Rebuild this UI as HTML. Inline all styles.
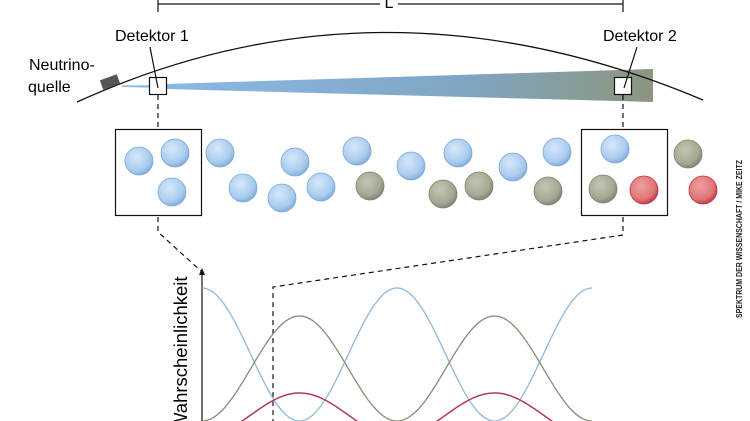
<!DOCTYPE html>
<html><head><meta charset="utf-8"><style>
html,body{margin:0;padding:0;background:#fff;width:750px;height:421px;overflow:hidden}
svg{display:block}
text{font-family:"Liberation Sans",sans-serif}
</style></head><body>
<svg id="s" width="750" height="421" viewBox="0 0 750 421" xmlns="http://www.w3.org/2000/svg">
<defs>
<linearGradient id="beam" x1="0" x2="1" y1="0" y2="0">
<stop offset="0" stop-color="#8ab8e6"/><stop offset="0.6" stop-color="#7fa6c4"/><stop offset="1" stop-color="#8c957e"/>
</linearGradient>
<radialGradient id="gb" cx="0.4" cy="0.35" r="0.65"><stop offset="0" stop-color="#d6e8fa"/><stop offset="0.75" stop-color="#a9cbee"/><stop offset="1" stop-color="#84b0dc"/></radialGradient>
<radialGradient id="gg" cx="0.4" cy="0.35" r="0.65"><stop offset="0" stop-color="#c4c5b4"/><stop offset="0.75" stop-color="#a5a792"/><stop offset="1" stop-color="#85877a"/></radialGradient>
<radialGradient id="gr" cx="0.4" cy="0.35" r="0.65"><stop offset="0" stop-color="#f0a0a0"/><stop offset="0.75" stop-color="#e07575"/><stop offset="1" stop-color="#c0404a"/></radialGradient>
</defs>
<path d="M158 0 V12 M623 0 V12 M158 4 H380 M398 4 H623" stroke="#111" stroke-width="1.2" fill="none"/>
<text x="389" y="8" font-size="16" text-anchor="middle">L</text>
<path d="M122 85.5 L166 85 L166 88 L122 87 Z" fill="#8ab8e6"/>
<path d="M166 84 L653 69 L653 102 L166 89 Z" fill="url(#beam)"/>
<path d="M77 102 Q380 -36 703 100" stroke="#111" stroke-width="1.3" fill="none"/>
<rect x="101" y="77" width="18" height="10" fill="#555" transform="rotate(-20 110 82)"/>
<text x="29" y="70" font-size="16">Neutrino-</text>
<text x="28" y="92" font-size="16">quelle</text>
<text x="115" y="41" font-size="16">Detektor 1</text>
<text x="603" y="41" font-size="16">Detektor 2</text>
<rect x="149.5" y="77.5" width="17" height="17" fill="#fff" stroke="#111" stroke-width="1.2"/>
<rect x="614.5" y="77.5" width="17" height="17" fill="#fff" stroke="#111" stroke-width="1.2"/>
<path d="M150 47 L158 88 M637 47 L624 88" stroke="#111" stroke-width="1.2"/>
<g stroke="#111" stroke-width="1.2" stroke-dasharray="5 4" fill="none">
<path d="M158 95 V129"/><path d="M623 95 V129"/>
<path d="M158 217 V232 L202 272"/>
<path d="M623 217 V235 L273 287 V421"/>
</g>
<rect x="115.5" y="129.5" width="86" height="86" fill="none" stroke="#111" stroke-width="1.2"/>
<rect x="581.5" y="129.5" width="86" height="86" fill="none" stroke="#111" stroke-width="1.2"/>
<g id="balls"></g>
<path d="M202 421 V274" stroke="#111" stroke-width="1.2"/>
<path d="M199 275 L202 268 L205 275 Z" fill="#111"/>
<text transform="translate(187 430) rotate(-90)" font-size="18.5">Wahrscheinlichkeit</text>
<path id="cb" stroke="#8fb8d8" stroke-width="1.3" fill="none"/>
<path id="cg" stroke="#8a8a78" stroke-width="1.3" fill="none"/>
<path id="cr" stroke="#b03a5a" stroke-width="1.5" fill="none"/>
<text transform="translate(742 318) rotate(-90)" font-size="8" font-weight="bold" fill="#222" textLength="158" lengthAdjust="spacingAndGlyphs">SPEKTRUM DER WISSENSCHAFT / MIKE ZEITZ</text>
</svg>
<script>
var b=[[139,161,'b'],[175,153,'b'],[172,192,'b'],[220,153,'b'],[243,188,'b'],[282,198,'b'],[295,162,'b'],[321,187,'b'],[357,151,'b'],[370,186,'g'],[411,166,'b'],[443,194,'g'],[458,153,'b'],[479,186,'g'],[513,167,'b'],[548,191,'g'],[557,152,'b'],[615,149,'b'],[603,189,'g'],[644,190,'r'],[688,154,'g'],[703,190,'r']];
var st={b:'#7aa8d6',g:'#7e8070',r:'#c03040'};var h='';
b.forEach(function(c){h+='<circle cx="'+c[0]+'" cy="'+c[1]+'" r="14" fill="url(#g'+c[2]+')" stroke="'+st[c[2]]+'" stroke-width="0.8"/>';});
document.getElementById('balls').innerHTML=h;
function cur(id,m,a,sgn){var d='';for(var x=202;x<=592;x+=2){var y=m+sgn*a*Math.cos(2*Math.PI*(x-202)/195);d+=(x==202?'M':'L')+x+' '+y.toFixed(1)+' ';}document.getElementById(id).setAttribute('d',d);}
cur('cb',354.5,66.5,-1);cur('cg',368.5,52.5,1);cur('cr',415,22,1);
</script>
</body></html>
